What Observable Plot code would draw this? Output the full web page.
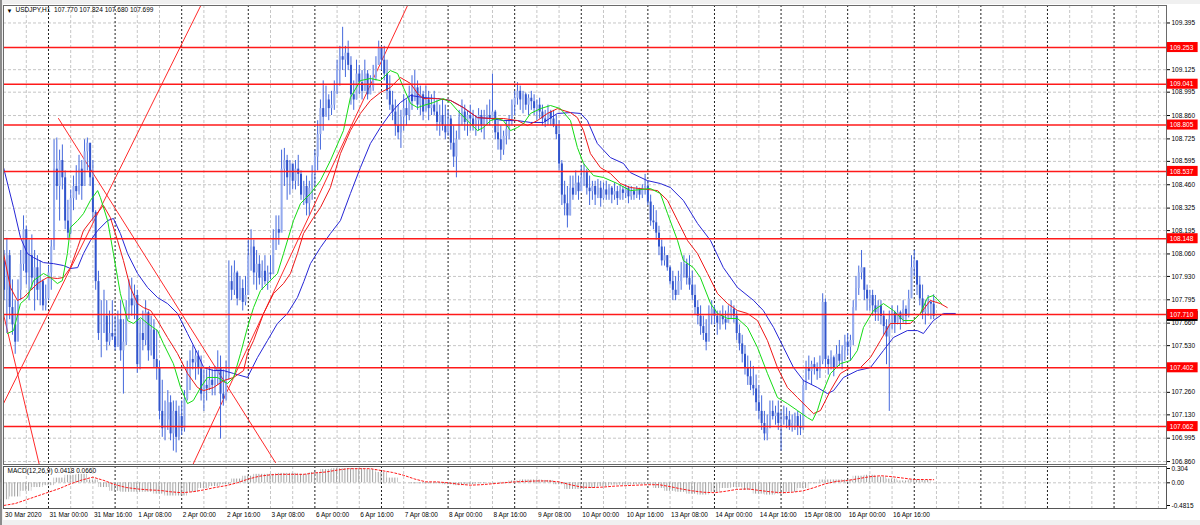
<!DOCTYPE html>
<html><head><meta charset="utf-8">
<script src="https://cdn.jsdelivr.net/npm/d3@7"></script>
<script src="https://cdn.jsdelivr.net/npm/@observablehq/plot@0.6"></script>
<style>
html,body{margin:0;padding:0;background:#f0f0f0;}
#wrap{position:relative;width:1200px;height:525px;overflow:hidden;background:#f0f0f0;}
#bg{position:absolute;left:3px;top:4px;width:1197px;height:516px;background:#fff;}
#lb{position:absolute;left:0;top:0;width:2px;height:525px;background:#8c8c8c;}
#main{position:absolute;left:3px;top:5px;}
#macd{position:absolute;left:3px;top:464px;}
</style></head>
<body><div id="wrap"><div id="bg"></div><div id="lb"></div><div id="main"></div><div id="macd"></div></div>
<script>
// ---------- DATA (USDJPY H1, 30 Mar 08:00 .. 17 Apr 07:00, bar index = trading hour) ----------
const firstOpen = 108.02;
const highs = [
108.08,108.15,108.08,107.91,107.79,107.91,108.08,108.28,108.22,108.14,
108.17,108.08,108.05,108.02,107.91,107.88,107.99,108.14,108.72,108.73,
108.66,108.69,108.54,108.37,108.43,108.51,108.57,108.63,108.60,108.72,
108.73,108.69,108.60,108.31,107.96,107.79,107.85,107.79,107.73,107.79,
107.70,107.73,107.79,107.68,107.79,107.91,107.92,107.88,107.85,107.68,
107.73,107.79,107.73,107.70,107.68,107.62,107.44,107.33,107.21,107.27,
107.24,107.21,107.21,107.18,107.21,107.27,107.44,107.50,107.53,107.50,
107.50,107.47,107.39,107.39,107.41,107.39,107.41,107.50,107.47,107.39,
107.44,108.02,107.99,108.02,107.96,107.93,107.91,107.93,108.14,108.20,
108.14,108.08,108.05,108.02,108.05,107.99,108.05,108.20,108.28,108.28,
108.66,108.67,108.63,108.60,108.57,108.60,108.63,108.54,108.48,108.51,
108.48,108.57,108.66,108.83,108.95,109.06,109.03,108.98,109.00,109.06,
109.18,109.26,109.37,109.26,109.29,109.20,109.06,109.18,109.15,109.12,
109.18,109.12,109.09,109.15,109.20,109.29,109.26,109.26,109.18,109.09,
109.00,108.95,108.92,108.89,108.98,108.95,109.03,109.09,109.12,109.06,
109.03,109.00,109.03,109.00,108.98,109.00,108.95,108.92,108.95,108.92,
108.89,108.86,108.80,108.77,108.89,108.95,108.92,108.89,108.92,108.89,
108.86,108.90,108.89,108.89,108.92,108.95,109.10,108.89,108.83,108.80,
108.77,108.83,108.86,108.95,109.00,109.05,109.03,109.00,108.99,108.98,
109.00,108.98,108.95,108.96,108.92,108.89,108.92,108.89,108.89,108.86,
108.83,108.60,108.48,108.45,108.51,108.51,108.54,108.51,108.57,108.58,
108.55,108.51,108.48,108.48,108.49,108.48,108.47,108.48,108.46,108.45,
108.47,108.45,108.46,108.45,108.46,108.45,108.45,108.44,108.45,108.44,
108.46,108.52,108.48,108.40,108.34,108.31,108.22,108.14,108.10,108.05,
107.99,107.96,107.93,107.96,108.01,108.05,108.03,108.05,107.96,107.88,
107.79,107.76,107.70,107.68,107.76,107.79,107.76,107.73,107.73,107.76,
107.73,107.76,107.79,107.76,107.73,107.65,107.59,107.53,107.47,107.44,
107.41,107.36,107.30,107.24,107.15,107.13,107.21,107.21,107.18,107.21,
107.15,107.18,107.17,107.15,107.13,107.14,107.15,107.13,107.33,107.44,
107.47,107.44,107.46,107.43,107.47,107.83,107.80,107.47,107.50,107.47,
107.53,107.56,107.53,107.59,107.60,107.59,107.79,107.93,107.99,108.08,
107.96,107.88,107.85,107.85,107.82,107.79,107.79,107.73,107.68,107.73,
107.76,107.73,107.76,107.73,107.79,107.76,107.85,108.05,108.08,108.02,
107.93,107.88,107.79,107.82,107.79,107.824];
const lows = [
107.79,107.60,107.68,107.59,107.48,107.56,107.79,107.96,107.88,107.79,
107.85,107.73,107.79,107.76,107.73,107.73,107.79,107.85,108.08,108.37,
108.25,108.43,108.20,108.14,108.17,108.31,108.37,108.40,108.37,108.45,
108.54,108.45,108.25,107.85,107.56,107.46,107.62,107.50,107.53,107.56,
107.50,107.56,107.44,107.25,107.53,107.68,107.70,107.68,107.37,107.39,
107.50,107.53,107.44,107.47,107.40,107.33,107.10,107.00,106.98,107.04,
106.98,106.92,106.91,106.98,107.01,107.03,107.21,107.27,107.39,107.33,
107.36,107.21,107.15,107.21,107.27,107.24,107.24,107.30,106.99,107.18,
107.21,107.33,107.79,107.82,107.76,107.79,107.73,107.76,107.82,107.96,
107.88,107.85,107.88,107.85,107.88,107.85,107.91,107.96,108.08,108.11,
108.20,108.45,108.37,108.40,108.43,108.43,108.45,108.37,108.34,108.28,
108.28,108.37,108.45,108.54,108.66,108.77,108.86,108.83,108.86,108.89,
108.98,109.03,109.12,109.08,109.12,108.92,108.89,108.95,108.98,108.95,
109.00,108.95,108.98,109.00,109.06,109.15,109.12,109.06,108.95,108.89,
108.83,108.74,108.72,108.67,108.77,108.80,108.83,108.89,108.95,108.89,
108.86,108.83,108.89,108.83,108.86,108.86,108.77,108.74,108.77,108.72,
108.74,108.66,108.56,108.50,108.72,108.80,108.77,108.74,108.77,108.77,
108.74,108.77,108.76,108.72,108.80,108.80,108.83,108.72,108.66,108.60,
108.63,108.69,108.72,108.80,108.86,108.92,108.89,108.87,108.89,108.86,
108.89,108.86,108.83,108.84,108.80,108.79,108.80,108.80,108.79,108.72,
108.54,108.34,108.28,108.21,108.28,108.37,108.40,108.37,108.43,108.45,
108.40,108.34,108.37,108.34,108.38,108.33,108.37,108.37,108.37,108.35,
108.37,108.34,108.37,108.37,108.38,108.35,108.37,108.37,108.38,108.37,
108.38,108.40,108.34,108.22,108.20,108.14,108.05,107.99,107.99,107.96,
107.88,107.79,107.79,107.84,107.85,107.92,107.88,107.85,107.79,107.71,
107.65,107.59,107.56,107.50,107.59,107.65,107.65,107.59,107.62,107.65,
107.62,107.66,107.68,107.66,107.56,107.50,107.43,107.36,107.30,107.27,
107.24,107.15,107.10,107.04,106.98,106.98,107.07,107.10,107.07,107.04,
106.92,107.07,107.05,107.04,107.03,107.04,107.01,107.01,107.04,107.27,
107.33,107.30,107.36,107.33,107.34,107.42,107.40,107.36,107.39,107.35,
107.41,107.41,107.39,107.44,107.47,107.44,107.53,107.73,107.82,107.91,
107.79,107.73,107.73,107.70,107.67,107.67,107.65,107.59,107.42,107.15,
107.62,107.60,107.65,107.62,107.66,107.65,107.69,107.82,107.93,107.82,
107.76,107.68,107.65,107.70,107.68,107.680];
const closes = [
107.85,108.05,107.75,107.65,107.55,107.85,108.00,108.20,107.95,108.05,
107.92,107.98,107.85,107.90,107.76,107.80,107.95,108.10,108.55,108.45,
108.60,108.50,108.25,108.18,108.38,108.45,108.42,108.55,108.45,108.65,
108.70,108.50,108.30,107.90,107.60,107.60,107.70,107.55,107.60,107.58,
107.52,107.68,107.50,107.55,107.75,107.80,107.76,107.82,107.42,107.60,
107.56,107.72,107.50,107.62,107.45,107.40,107.15,107.05,107.10,107.20,
107.02,107.15,107.00,107.12,107.05,107.22,107.40,107.45,107.43,107.47,
107.40,107.25,107.30,107.28,107.33,107.30,107.36,107.40,107.25,107.22,
107.35,107.90,107.85,107.95,107.80,107.86,107.78,107.82,108.05,108.10,
107.95,108.00,107.92,107.96,107.90,107.95,107.94,108.15,108.20,108.18,
108.55,108.60,108.50,108.58,108.48,108.55,108.52,108.40,108.45,108.35,
108.44,108.52,108.62,108.75,108.90,108.85,108.95,108.90,108.92,109.00,
109.12,109.20,109.18,109.22,109.15,108.98,108.95,109.10,109.05,109.00,
109.10,108.98,109.02,109.08,109.15,109.25,109.18,109.10,109.00,108.92,
108.88,108.80,108.76,108.85,108.90,108.86,108.98,108.94,109.02,108.92,
108.98,108.88,108.95,108.90,108.92,108.88,108.82,108.86,108.80,108.76,
108.84,108.70,108.62,108.72,108.85,108.88,108.82,108.86,108.84,108.80,
108.83,108.86,108.80,108.84,108.86,108.84,108.88,108.76,108.72,108.66,
108.74,108.78,108.84,108.92,108.96,109.00,108.95,108.98,108.92,108.96,
108.94,108.90,108.92,108.88,108.84,108.82,108.88,108.84,108.80,108.75,
108.58,108.40,108.35,108.28,108.44,108.40,108.47,108.42,108.50,108.53,
108.44,108.42,108.45,108.40,108.44,108.38,108.43,108.40,108.44,108.40,
108.42,108.38,108.43,108.41,108.44,108.39,108.42,108.40,108.43,108.40,
108.44,108.45,108.36,108.25,108.24,108.18,108.10,108.02,108.05,107.98,
107.90,107.85,107.82,107.90,107.94,108.00,107.92,107.88,107.82,107.75,
107.70,107.64,107.60,107.55,107.70,107.74,107.70,107.66,107.70,107.68,
107.66,107.72,107.74,107.70,107.60,107.54,107.48,107.40,107.35,107.30,
107.28,107.20,107.15,107.08,107.02,107.05,107.15,107.12,107.14,107.08,
107.10,107.12,107.10,107.06,107.08,107.12,107.06,107.05,107.30,107.40,
107.38,107.42,107.40,107.38,107.44,107.78,107.45,107.42,107.46,107.40,
107.48,107.44,107.50,107.55,107.52,107.56,107.75,107.86,107.95,107.98,
107.85,107.80,107.82,107.76,107.72,107.76,107.70,107.64,107.58,107.68,
107.72,107.66,107.72,107.68,107.74,107.70,107.80,107.98,108.02,107.88,
107.80,107.72,107.74,107.78,107.77,107.699];

// Alligator lines [bar index, price]
const jaw = [[-0.2,108.559],[3.4,108.328],[5.9,108.155],[8.4,108.062],[10.6,108.039],[14.2,108.010],[17.8,108.004],[21.4,107.993],[23.9,107.976],[26.5,107.981],[28.6,108.062],[31.1,108.137],[33.7,108.195],[37.3,108.253],[39.4,108.265],[41.9,108.178],[44.5,108.062],[48.1,107.947],[51.7,107.866],[55.3,107.808],[58.9,107.773],[62.5,107.716],[66.1,107.600],[69.7,107.484],[71.9,107.403],[75.5,107.386],[79.1,107.386],[82.7,107.369],[87.7,107.346],[91.3,107.461],[94.9,107.559],[98.5,107.658],[102.1,107.716],[105.7,107.808],[108.0,107.900],[110.4,108.004],[114.0,108.097],[117.6,108.178],[121.2,108.253],[124.8,108.409],[128.4,108.559],[132.0,108.698],[135.6,108.791],[139.2,108.872],[142.8,108.935],[146.5,108.976],[151.1,108.964],[156.2,108.958],[160.9,108.947],[165.5,108.906],[170.6,108.848],[175.3,108.843],[179.9,108.831],[185.0,108.831],[189.7,108.820],[194.4,108.820],[199.4,108.872],[204.1,108.877],[207.7,108.872],[210.2,108.831],[213.8,108.698],[218.5,108.617],[223.2,108.583],[225.7,108.530],[231.8,108.484],[236.5,108.467],[240.1,108.444],[244.8,108.369],[249.9,108.236],[254.6,108.137],[259.2,107.981],[264.3,107.866],[270.1,107.791],[273.6,107.733],[277.3,107.635],[280.9,107.519],[284.5,107.403],[288.1,107.328],[293.1,107.288],[296.7,107.253],[298.9,107.270],[302.5,107.346],[307.5,107.386],[312.2,107.403],[316.9,107.502],[320.5,107.577],[325.5,107.617],[329.1,107.617],[331.3,107.600],[334.9,107.675],[338.5,107.716],[342.8,107.716]];
const teeth = [[-0.2,108.062],[2.3,107.866],[4.8,107.791],[7.0,107.808],[9.5,107.848],[12.0,107.889],[15.6,107.924],[19.2,107.918],[21.4,107.924],[23.9,107.981],[26.5,108.097],[28.6,108.195],[32.2,108.270],[35.8,108.340],[38.3,108.270],[40.9,108.137],[43.0,108.022],[45.5,107.866],[48.1,107.773],[50.2,107.750],[52.8,107.733],[55.3,107.675],[58.9,107.577],[62.5,107.484],[66.1,107.369],[69.7,107.288],[71.9,107.270],[75.5,107.288],[79.1,107.328],[82.7,107.346],[86.3,107.386],[87.7,107.484],[89.9,107.559],[93.5,107.716],[97.1,107.831],[100.7,107.889],[103.2,107.947],[105.7,108.062],[107.9,108.178],[111.5,108.270],[114.0,108.328],[117.6,108.444],[121.2,108.640],[124.8,108.773],[128.4,108.872],[132.0,108.947],[135.6,108.993],[139.2,109.022],[142.8,109.080],[146.5,109.045],[149.0,108.987],[151.1,108.958],[156.2,108.958],[160.9,108.947],[165.5,108.906],[170.6,108.848],[175.3,108.843],[179.9,108.843],[185.0,108.831],[188.6,108.802],[192.2,108.831],[195.8,108.872],[199.4,108.900],[204.1,108.877],[206.6,108.848],[208.8,108.773],[211.3,108.640],[214.9,108.559],[218.5,108.525],[222.1,108.467],[225.7,108.444],[235.5,108.426],[239.1,108.369],[242.7,108.253],[246.3,108.137],[249.9,108.062],[253.5,107.947],[257.1,107.831],[260.7,107.773],[264.3,107.733],[267.9,107.716],[271.5,107.675],[275.1,107.559],[278.7,107.403],[282.3,107.288],[285.9,107.230],[289.5,107.172],[291.7,107.137],[294.2,107.155],[297.8,107.270],[301.4,107.369],[305.0,107.403],[308.6,107.403],[312.2,107.461],[315.8,107.559],[319.4,107.658],[323.0,107.658],[326.6,107.658],[330.2,107.716],[333.8,107.791],[337.4,107.773],[339.9,107.750]];
const lips = [[1.2,107.600],[3.4,107.617],[5.9,107.773],[8.4,107.808],[10.6,107.906],[14.2,107.947],[16.7,107.924],[19.2,107.889],[21.0,107.906],[22.8,108.062],[23.9,108.213],[26.5,108.253],[28.6,108.293],[31.1,108.369],[33.7,108.426],[34.7,108.386],[37.3,108.253],[39.4,108.062],[41.9,107.831],[44.5,107.675],[46.6,107.658],[49.2,107.692],[51.7,107.658],[55.3,107.617],[57.4,107.542],[61.0,107.426],[63.6,107.288],[66.1,107.195],[68.2,107.213],[70.8,107.288],[73.3,107.346],[76.9,107.346],[80.5,107.311],[82.7,107.346],[85.2,107.484],[87.7,107.635],[89.9,107.750],[92.4,107.848],[94.9,107.889],[98.5,107.947],[100.7,108.062],[104.3,108.253],[106.8,108.351],[110.4,108.409],[114.0,108.484],[117.6,108.600],[122.3,108.773],[124.8,108.964],[128.4,109.062],[132.0,109.074],[135.6,109.062],[139.2,109.120],[141.8,109.103],[143.9,109.022],[146.5,108.929],[149.0,108.906],[151.1,108.918],[154.7,108.935],[158.3,108.958],[160.9,108.935],[163.4,108.889],[166.9,108.831],[170.6,108.773],[172.8,108.791],[175.3,108.831],[177.8,108.843],[179.9,108.831],[182.5,108.773],[185.0,108.791],[187.2,108.814],[189.7,108.872],[193.3,108.900],[196.9,108.918],[200.5,108.900],[204.1,108.831],[206.6,108.675],[208.8,108.583],[212.4,108.513],[216.0,108.502],[221.0,108.467],[225.7,108.426],[232.9,108.438],[236.5,108.409],[239.1,108.293],[242.7,108.137],[244.8,108.022],[248.4,107.981],[250.9,107.924],[254.6,107.773],[257.1,107.716],[260.7,107.687],[264.3,107.687],[267.9,107.635],[271.5,107.519],[275.1,107.369],[278.7,107.230],[282.3,107.195],[285.9,107.155],[289.5,107.114],[291.3,107.097],[293.1,107.155],[295.3,107.270],[297.8,107.369],[301.4,107.426],[305.0,107.444],[307.5,107.502],[309.7,107.635],[313.3,107.733],[316.9,107.773],[320.5,107.733],[324.1,107.675],[327.7,107.675],[330.2,107.716],[332.8,107.808],[334.9,107.820],[337.8,107.773]];

// horizontal levels and trend lines (chart objects)
const levels = [109.253, 109.041, 108.805, 108.537, 108.148, 107.710, 107.402, 107.062];
const lastPrice = 107.699;
const trend1 = [[-0.22,107.195],[70.9,109.496]];
const trend2 = [[19.6,108.843],[97.8,106.854]];
const trend3 = [[-0.2,107.710],[12.6,106.848]];
const trend4 = [[68.2,106.848],[145.4,109.496]];

// MACD(12,26,9): main (histogram) and signal, [bar index, value]
const macdMain = [[0,-0.36],[4,-0.30],[8,-0.18],[12,-0.10],[16,-0.06],[20,0.10],[24,0.16],[28,0.18],[32,0.06],[36,-0.10],[40,-0.18],[44,-0.20],[48,-0.20],[52,-0.20],[56,-0.24],[60,-0.28],[64,-0.28],[68,-0.20],[72,-0.12],[76,-0.08],[80,-0.04],[84,0.08],[88,0.14],[92,0.18],[96,0.18],[100,0.20],[104,0.20],[108,0.18],[112,0.22],[116,0.28],[120,0.30],[124,0.30],[128,0.30],[132,0.28],[136,0.22],[140,0.10],[144,0.00],[148,-0.02],[152,-0.02],[156,-0.02],[160,-0.04],[164,-0.06],[168,-0.04],[172,-0.02],[176,0.00],[180,0.01],[184,0.04],[188,0.06],[192,0.06],[196,0.05],[200,-0.04],[204,-0.14],[208,-0.14],[212,-0.12],[216,-0.08],[220,-0.05],[224,-0.05],[228,-0.04],[232,-0.04],[236,-0.12],[240,-0.18],[244,-0.20],[248,-0.24],[252,-0.26],[256,-0.20],[260,-0.12],[264,-0.10],[268,-0.16],[272,-0.24],[276,-0.26],[280,-0.24],[284,-0.20],[288,-0.12],[292,-0.02],[296,0.06],[300,0.06],[304,0.06],[308,0.14],[312,0.16],[316,0.12],[320,0.08],[324,0.04],[328,0.06],[332,0.05]];
const macdSignal = [[0,-0.48],[4,-0.44],[8,-0.36],[12,-0.28],[16,-0.20],[20,-0.12],[24,-0.02],[28,0.06],[32,0.12],[36,0.05],[40,-0.04],[44,-0.10],[48,-0.13],[52,-0.15],[56,-0.16],[60,-0.19],[64,-0.21],[68,-0.19],[72,-0.15],[76,-0.10],[80,-0.06],[84,0.00],[88,0.08],[92,0.14],[96,0.17],[100,0.18],[104,0.18],[108,0.18],[112,0.21],[116,0.23],[120,0.27],[124,0.30],[128,0.30],[132,0.30],[136,0.26],[140,0.22],[144,0.16],[148,0.08],[152,0.02],[156,0.02],[160,0.00],[164,-0.03],[168,-0.05],[172,-0.04],[176,-0.02],[180,0.00],[184,0.02],[188,0.03],[192,0.04],[196,0.04],[200,0.02],[204,-0.04],[208,-0.09],[212,-0.10],[216,-0.09],[220,-0.07],[224,-0.06],[228,-0.05],[232,-0.04],[236,-0.04],[240,-0.08],[244,-0.13],[248,-0.17],[252,-0.20],[256,-0.21],[260,-0.18],[264,-0.14],[268,-0.13],[272,-0.16],[276,-0.19],[280,-0.21],[284,-0.20],[288,-0.17],[292,-0.10],[296,-0.02],[300,0.03],[304,0.05],[308,0.09],[312,0.13],[316,0.15],[320,0.13],[324,0.10],[328,0.07],[332,0.07],[335,0.066]];
const macdTicks = [0.304, 0, -0.4815];
const macdTickLabels = ["0.304", "0.00", "-0.4815"];

// axis ticks
const priceTicks = [109.395,109.125,108.995,108.860,108.725,108.595,108.460,108.325,108.195,108.060,107.930,107.795,107.660,107.530,107.260,107.130,106.995,106.860];
const timeTickIdx = d3.range(0, 321, 16);
const timeLabels = ["30 Mar 2020","31 Mar 00:00","31 Mar 16:00","1 Apr 08:00","2 Apr 00:00","2 Apr 16:00","3 Apr 08:00","6 Apr 00:00","6 Apr 16:00","7 Apr 08:00","8 Apr 00:00","8 Apr 16:00","9 Apr 08:00","10 Apr 00:00","10 Apr 16:00","13 Apr 08:00","14 Apr 00:00","14 Apr 16:00","15 Apr 08:00","16 Apr 00:00","16 Apr 16:00"];
const headerText = "USDJPY,H1  107.770 107.824 107.680 107.699";
const macdText = "MACD(12,26,9) 0.0418 0.0660";

// ---------- BUILD ----------
const bars = closes.map((c, i) => ({i, open: i === 0 ? firstOpen : closes[i - 1], high: highs[i], low: lows[i], close: c}));
const upBars = bars.filter(d => d.close >= d.open);
const downBars = bars.filter(d => d.close < d.open);
const xDomain = [-0.216, 418.9];
const sepIdx = d3.range(16, 419, 24);
const gridIdx = d3.range(8, 419, 8).filter(i => (i - 16) % 24 !== 0);
const FONT = "Tahoma, 'Liberation Sans', Arial, sans-serif";
const gridStyle = {stroke: "#c6c6c6", strokeDasharray: "3,2"};
const sepStyle = {stroke: "#202020", strokeDasharray: "2,2"};
const px = d => d[0], py = d => d[1];

const mainPlot = Plot.plot({
  width: 1197, height: 459,
  marginLeft: 0, marginRight: 34, marginTop: 0, marginBottom: 0,
  x: {domain: xDomain, axis: null},
  y: {domain: [106.843, 109.496], axis: null},
  style: {background: "white", fontFamily: FONT, fontSize: "6.5px", color: "#000", overflow: "visible"},
  marks: [
    Plot.ruleY(priceTicks, gridStyle),
    Plot.ruleX(gridIdx, gridStyle),
    Plot.ruleX(sepIdx, sepStyle),
    Plot.line(trend1, {x: px, y: py, stroke: "#ff2a2a", strokeWidth: 1, clip: true}),
    Plot.line(trend2, {x: px, y: py, stroke: "#ff2a2a", strokeWidth: 1, clip: true}),
    Plot.line(trend3, {x: px, y: py, stroke: "#ff2a2a", strokeWidth: 1, clip: true}),
    Plot.line(trend4, {x: px, y: py, stroke: "#ff2a2a", strokeWidth: 1, clip: true}),
    Plot.ruleX(bars, {x: "i", y1: "low", y2: "high", stroke: "#4468dc", clip: true}),
    Plot.ruleX(upBars, {x: "i", y1: "open", y2: "close", stroke: "#94aaee", strokeWidth: 2, clip: true}),
    Plot.ruleX(downBars, {x: "i", y1: "open", y2: "close", stroke: "#3154cc", strokeWidth: 2, clip: true}),
    Plot.line(jaw, {x: px, y: py, stroke: "#2626d6", strokeWidth: 1, clip: true}),
    Plot.line(teeth, {x: px, y: py, stroke: "#ee1818", strokeWidth: 1, clip: true}),
    Plot.line(lips, {x: px, y: py, stroke: "#14dc14", strokeWidth: 1, clip: true}),
    Plot.ruleY(levels, {y: d => d, stroke: "#ff1a1a", strokeWidth: 1.5}),
    Plot.axisY({anchor: "right", ticks: priceTicks, tickFormat: d3.format(".3f"), tickSize: 3, tickPadding: 2, fontSize: 6.5}),
    Plot.frame({stroke: "#6a6a6a"}),
    Plot.rect([lastPrice], {x1: xDomain[1] + 0.3, x2: xDomain[1] + 11.4, y1: d => d - 0.029, y2: d => d + 0.029, fill: "#000"}),
    Plot.rect(levels, {x1: xDomain[1] + 0.3, x2: xDomain[1] + 11.4, y1: d => d - 0.029, y2: d => d + 0.029, fill: "#ff0000"}),
    Plot.text(levels, {x: xDomain[1] + 1.2, y: d => d, text: d => d.toFixed(3), fill: "#fff", textAnchor: "start", fontSize: 6.5}),
    Plot.text(["\u25BC"], {frameAnchor: "top-left", dx: 3, dy: 3, fontSize: 6, textAnchor: "start", lineAnchor: "top"}),
    Plot.text([headerText], {frameAnchor: "top-left", dx: 12, dy: 2, fontSize: 6.5, textAnchor: "start", lineAnchor: "top"})
  ]
});
document.getElementById("main").appendChild(mainPlot);

const macdPlot = Plot.plot({
  width: 1197, height: 61,
  marginLeft: 0, marginRight: 34, marginTop: 4, marginBottom: 20,
  x: {domain: xDomain, axis: null},
  y: {domain: [-0.4815, 0.304], axis: null},
  style: {background: "transparent", fontFamily: FONT, fontSize: "6.5px", color: "#000", overflow: "visible"},
  marks: [
    Plot.ruleX(gridIdx, {...gridStyle, insetTop: -2, insetBottom: -3}),
    Plot.ruleX(sepIdx, {...sepStyle, insetTop: -2, insetBottom: -3}),
    Plot.ruleY([0], gridStyle),
    Plot.rectY(macdMain, {x1: d => d[0] - 2, x2: d => d[0] + 2, y1: 0, y2: py, fill: "url(#macdHatch)"}),
    Plot.line(macdSignal, {x: px, y: py, stroke: "#ff1a1a", strokeWidth: 1, strokeDasharray: "2,2"}),
    Plot.axisY({anchor: "right", ticks: macdTicks, tickFormat: d => macdTickLabels[macdTicks.indexOf(d)], tickSize: 3, tickPadding: 2, fontSize: 6.5}),
    Plot.axisX({anchor: "bottom", ticks: timeTickIdx, tickFormat: d => timeLabels[timeTickIdx.indexOf(d)], tickSize: 0, tickPadding: 7, textAnchor: "start", dx: 1, fontSize: 6.5}),
    Plot.frame({stroke: "#555", insetTop: -2, insetBottom: -3}),
    Plot.text([macdText], {frameAnchor: "top-left", dx: 4, dy: 0, fontSize: 6.5, textAnchor: "start", lineAnchor: "top"})
  ]
});
(function addHatch(svg) {
  const ns = "http://www.w3.org/2000/svg";
  const defs = document.createElementNS(ns, "defs");
  defs.innerHTML = '<pattern id="macdHatch" patternUnits="userSpaceOnUse" width="2.775" height="10" patternTransform="translate(0.1,0)"><rect x="0" y="0" width="1" height="10" fill="#9e9e9e"/></pattern>';
  svg.insertBefore(defs, svg.firstChild);
})(macdPlot.tagName.toLowerCase() === "svg" ? macdPlot : macdPlot.querySelector("svg"));
document.getElementById("macd").appendChild(macdPlot);
</script>
</body></html>
